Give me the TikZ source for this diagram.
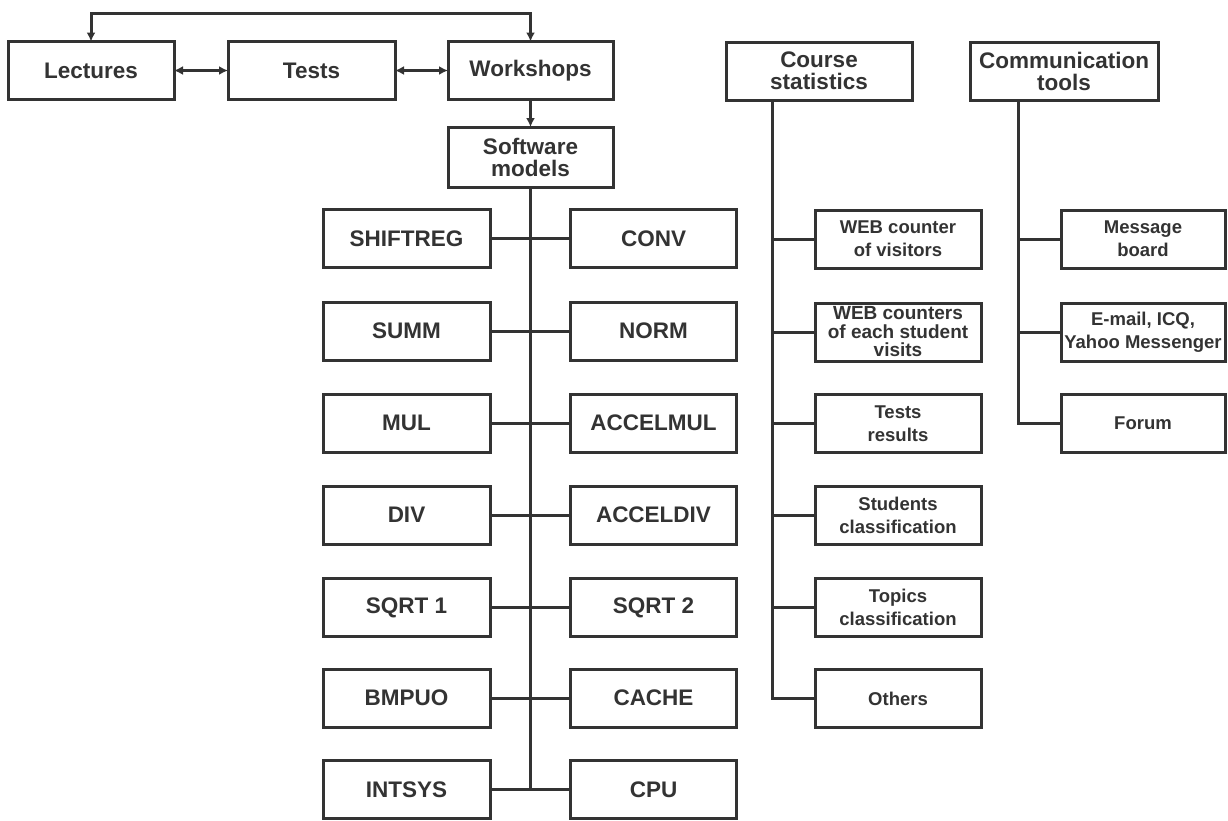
\documentclass[tikz,border=0pt]{standalone}
\usepackage{fontspec}
\setmainfont{Liberation Sans}
\usetikzlibrary{arrows.meta}
\definecolor{ink}{HTML}{333333}
\begin{document}
\begin{tikzpicture}[x=1pt,y=-1pt,
  box/.style={draw=ink, line width=3pt, fill=white, inner sep=0pt, outer sep=0pt,
    minimum width=166pt, minimum height=58pt, align=center, text=ink,
    font=\bfseries\fontsize{22.5}{22}\selectfont},
  small/.style={font=\bfseries\fontsize{18.5}{23}\selectfont},
  tiny/.style={font=\bfseries\fontsize{19}{18.5}\selectfont},
  link/.style={draw=ink, line width=3pt},
  tip/.tip={Latex[length=9pt,width=9pt]},
  both/.style={draw=ink, line width=3pt, tip-tip},
  fwd/.style={draw=ink, line width=3pt, -tip}]
\path[fill=white, use as bounding box] (0,0) rectangle (1228,820);

% course components
\node[box] (lec) at (91,70.5) {Lectures};
\node[box, minimum width=167pt] (tst) at (311.5,70.5) {Tests};
\node[box, minimum width=165pt] (wks) at (530.5,70.5) {Workshops};
\node[box, minimum width=165pt, minimum height=60pt] (sw) at (530.5,157) {Software\\models};

\coordinate (top) at (0,13);
\draw[both] (lec.north) -- (lec.north |- top) -| (wks.north);
\draw[both] (lec.east) -- (tst.west);
\draw[both] (tst.east) -- (wks.west);
\draw[fwd] (wks.south) -- (sw.north);

% software models
\foreach \l/\r/\lt/\rt/\y in {
    shiftreg/conv/SHIFTREG/CONV/238.5,
    summ/norm/SUMM/NORM/331,
    mul/accelmul/MUL/ACCELMUL/423,
    div/acceldiv/DIV/ACCELDIV/515,
    sqrta/sqrtb/SQRT 1/SQRT 2/607.5,
    bmpuo/cache/BMPUO/CACHE/698,
    intsys/cpu/INTSYS/CPU/789.5} {
  \node[box, minimum width=167pt] (\l) at (406.5,\y) {\lt};
  \node[box] (\r) at (653.5,\y) {\rt};
  \draw[link] (\l.east) -- (\r.west);
}
\draw[link] (sw.south) -- (sw.south |- intsys.east);

% course statistics
\node[box, minimum width=186pt] (cs) at (819,71) {Course\\statistics};
\coordinate (cstop) at (772,100);
\node[box, small] (st1) at (898,239) {WEB counter\\of visitors};
\node[box, tiny] (st2) at (898,332) {WEB counters\\of each student\\visits};
\node[box, small] (st3) at (898,423.5) {Tests\\results};
\node[box, small] (st4) at (898,515.5) {Students\\classification};
\node[box, small] (st5) at (898,607) {Topics\\classification};
\node[box, small] (st6) at (898,698.5) {Others};
\draw[link] (cstop) |- (st6.west);
\foreach \n in {st1,st2,st3,st4,st5}
  \draw[link] (cstop |- \n.west) -- (\n.west);

% communication tools
\node[box, minimum width=188pt] (ct) at (1064,71) {Communication\\tools};
\coordinate (cttop) at (1018,100);
\node[box, small, minimum width=164pt] (cm1) at (1143,239) {Message\\board};
\node[box, small, minimum width=164pt] (cm2) at (1143,332) {E-mail, ICQ,\\Yahoo Messenger};
\node[box, small, minimum width=164pt] (cm3) at (1143,423.5) {Forum};
\draw[link] (cttop) |- (cm3.west);
\foreach \n in {cm1,cm2}
  \draw[link] (cttop |- \n.west) -- (\n.west);
\end{tikzpicture}
\end{document}
